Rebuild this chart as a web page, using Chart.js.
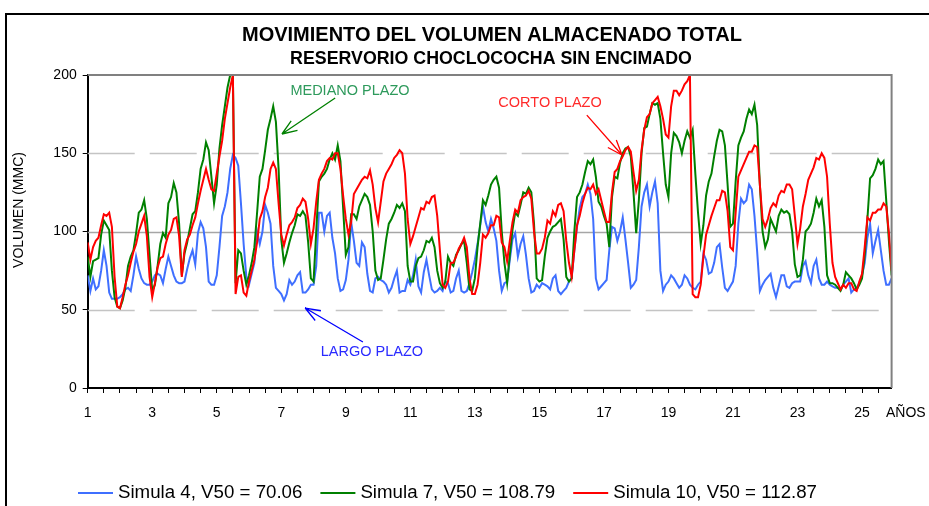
<!DOCTYPE html>
<html>
<head>
<meta charset="utf-8">
<script src="https://cdn.jsdelivr.net/npm/chart.js@4.4.1/dist/chart.umd.min.js"></script>
<style>
  html, body { margin: 0; padding: 0; background: #fff; }
  canvas { display: block; }
</style>
</head>
<body>
<canvas id="c" width="929" height="506"></canvas>
<script>
// ---------- DATA ----------
const chartTitle = 'MOVIMIENTO DEL VOLUMEN ALMACENADO TOTAL';
const chartSubtitle = 'RESERVORIO CHOCLOCOCHA SIN ENCIMADO';
const yAxisTitle = 'VOLUMEN (MMC)';
const xAxisTitle = 'AÑOS';
const seriesLabels = ['Simula 4, V50 = 70.06', 'Simula 7, V50 = 108.79', 'Simula 10, V50 = 112.87'];
const yearTicks = [1, 3, 5, 7, 9, 11, 13, 15, 17, 19, 21, 23, 25];
const yTicks = [0, 50, 100, 150, 200];
const monthsPerYear = 12;
const firstYear = 1;

// Simula 4 (largo plazo) - monthly
const simula4 = [
  72,62,70,63,65,75,88,78,61,57,
  57,57,58,60,63,64,62,72,84,76,
  70,67,66,66,68,72,73,72,67,76,
  84,78,72,68,67,67,68,76,83,88,
  79,99,106,102,90,68,66,66,72,90,
  110,116,125,140,149,147,142,118,92,71,
  66,73,80,100,92,100,117,112,105,78,
  64,62,60,56,60,69,66,68,72,74,
  61,61,63,66,66,78,112,112,100,110,
  112,96,86,70,62,63,69,82,106,94,
  80,78,93,90,73,62,61,70,71,69,
  68,66,61,64,70,75,61,62,62,69,
  66,72,82,65,61,74,82,72,63,61,
  62,64,62,68,67,61,62,70,75,62,
  61,62,67,74,82,92,104,116,106,100,
  108,102,94,75,62,67,68,82,95,99,
  84,92,97,85,70,61,62,66,64,67,
  66,65,63,70,72,62,60,62,64,68,
  70,88,103,115,122,124,130,124,108,70,
  63,65,67,69,88,103,102,94,100,109,
  95,80,64,66,69,90,116,125,130,116,
  125,132,118,75,62,66,68,72,70,67,
  64,66,72,70,66,64,63,66,68,86,
  82,73,74,80,90,92,77,64,62,65,
  68,78,105,121,118,120,130,127,110,87,
  62,66,69,71,73,64,58,65,72,72,
  65,64,67,68,68,68,78,81,72,67,
  78,82,70,66,66,68,66,65,64,64,
  63,66,68,70,61,63,64,67,72,80,
  96,105,86,94,101,88,75,66,66,70
];

// Simula 7 (mediano plazo) - monthly
const simula7 = [
  84,71,81,82,83,98,107,104,101,75,
  58,52,51,56,64,78,84,88,99,112,
  114,120,108,85,62,66,78,92,99,96,
  118,122,131,125,105,72,86,93,102,111,
  113,125,140,146,157,152,135,118,130,153,
  168,180,192,200,200,67,88,86,75,66,
  72,80,90,112,135,140,152,165,172,180,
  170,140,95,80,86,93,99,104,111,110,
  113,110,93,70,68,100,132,135,137,140,
  146,150,146,155,145,115,85,90,111,111,
  108,116,120,124,122,117,100,75,69,70,
  82,95,105,108,112,117,115,118,113,78,
  68,68,78,83,84,88,94,93,96,90,
  75,67,64,68,84,80,78,85,88,92,
  94,80,63,62,70,90,105,120,117,123,
  130,133,135,128,100,80,67,85,101,112,
  110,117,125,124,128,125,105,70,68,69,
  84,96,100,103,104,106,108,95,71,68,
  70,100,122,125,130,138,145,143,146,135,
  119,116,110,105,90,122,135,134,144,150,
  153,154,148,125,99,120,150,166,167,175,
  182,181,182,172,150,130,122,150,163,161,
  157,150,158,164,160,165,137,112,92,104,
  123,132,137,148,158,165,164,155,130,103,
  105,132,155,160,164,172,178,175,181,168,
  130,100,90,95,108,104,100,110,114,112,
  113,111,100,79,71,72,82,100,102,105,
  112,121,116,120,103,72,67,67,66,64,
  62,66,74,72,70,67,63,66,70,85,
  108,134,136,140,146,143,145,120,94,72
];

// Simula 10 (corto plazo) - monthly
const simula10 = [
  93,82,90,94,96,104,111,110,112,103,
  71,52,51,58,66,72,80,87,92,100,
  105,110,97,71,58,67,77,83,84,92,
  98,101,108,109,97,71,88,95,98,104,
  109,118,126,133,140,133,127,126,137,148,
  158,172,182,192,200,60,71,72,61,59,
  68,75,82,93,108,113,122,128,140,144,
  140,118,98,91,98,104,106,109,115,117,
  121,119,108,92,102,119,133,137,140,145,
  147,146,150,150,140,123,108,98,106,124,
  127,130,133,135,134,139,130,115,106,119,
  132,137,140,143,147,149,152,150,137,108,
  92,97,103,109,115,114,119,118,122,123,
  110,88,66,64,68,80,80,84,89,92,
  96,90,70,60,60,66,80,98,96,99,
  104,104,110,109,93,90,81,94,106,114,
  112,120,122,123,126,121,100,86,86,89,
  96,107,105,113,110,117,118,113,94,80,
  71,88,104,110,118,124,128,127,130,124,
  127,120,113,106,106,125,138,140,145,148,
  152,154,151,138,126,133,152,165,173,175,
  182,184,186,180,172,162,160,180,190,190,
  187,190,194,196,200,60,58,58,66,84,
  98,104,110,115,120,120,126,125,113,90,
  88,112,135,139,143,147,151,151,155,154,
  130,108,103,108,115,118,116,123,126,125,
  130,130,127,110,92,102,116,124,133,137,
  141,147,146,150,147,135,105,80,71,67,
  63,66,64,67,67,63,62,68,73,90,
  109,107,112,112,114,114,118,116,99,75
];

// time axis (years), one entry per month
const years = simula4.map((_, i) => firstYear + i / monthsPerYear);

// annotations (text in data coordinates: year, volume)
const notes = [
  { text: 'MEDIANO PLAZO', color: '#2E9A5C', arrow: '#008000', at: [9.13, 189.5], from: [8.67, 185.3], to: [7.02, 162.3] },
  { text: 'CORTO PLAZO',   color: '#FF2A2A', arrow: '#FF0000', at: [15.33, 182],  from: [16.47, 174.4], to: [17.56, 148.9] },
  { text: 'LARGO PLAZO',   color: '#2A2AFF', arrow: '#0000FF', at: [9.81, 23],    from: [9.53, 29.4],  to: [7.74, 51.1] }
];

const FONT = "'Liberation Sans', Arial, sans-serif";
const colors = ['#3F6FFF', '#008000', '#FF0000'];

function xy(vals) { return vals.map((v, i) => ({ x: years[i], y: v })); }

const deco = {
  id: 'deco',
  beforeDraw(chart) {
    const ctx = chart.ctx;
    ctx.save();
    ctx.fillStyle = '#fff';
    ctx.fillRect(0, 0, chart.width, chart.height);
    ctx.strokeStyle = '#000';
    ctx.lineWidth = 2;
    ctx.beginPath();
    ctx.moveTo(6, chart.height + 2);
    ctx.lineTo(6, 14);
    ctx.lineTo(chart.width + 2, 14);
    ctx.stroke();
    ctx.restore();
  },
  beforeDatasetsDraw(chart) {
    const { ctx, chartArea: a, scales: { y } } = chart;
    ctx.save();
    [50, 100, 150].forEach(v => {
      const py = Math.round(y.getPixelForValue(v)) + 0.5;
      ctx.beginPath();
      if (v === 100) { ctx.setLineDash([]); ctx.strokeStyle = '#A6A6A6'; }
      else { ctx.setLineDash([47, 15]); ctx.strokeStyle = '#C4C4C4'; }
      ctx.lineWidth = 1.3;
      ctx.moveTo(a.left, py);
      ctx.lineTo(a.right, py);
      ctx.stroke();
    });
    ctx.restore();
  },
  afterDraw(chart) {
    const { ctx, chartArea: a, scales: { x, y } } = chart;
    ctx.save();
    // plot frame top/right
    ctx.strokeStyle = '#808080';
    ctx.lineWidth = 2;
    ctx.beginPath();
    ctx.moveTo(a.left, a.top);
    ctx.lineTo(a.right, a.top);
    ctx.lineTo(a.right, a.bottom);
    ctx.stroke();

    // titles
    ctx.fillStyle = '#000';
    ctx.textAlign = 'center';
    ctx.textBaseline = 'middle';
    ctx.font = 'bold 20px ' + FONT;
    ctx.fillText(chartTitle, 492, 35);
    ctx.font = 'bold 17.8px ' + FONT;
    ctx.fillText(chartSubtitle, 491, 59);

    // y-axis title
    ctx.save();
    ctx.translate(19, 210);
    ctx.rotate(-Math.PI / 2);
    ctx.font = '14px ' + FONT;
    ctx.fillText(yAxisTitle, 0, 0);
    ctx.restore();

    // x-axis unit
    ctx.textAlign = 'left';
    ctx.font = '14px ' + FONT;
    ctx.fillText(xAxisTitle, 886, 413);

    // annotations
    notes.forEach(n => {
      ctx.font = '14.5px ' + FONT;
      ctx.fillStyle = n.color;
      ctx.textAlign = 'center';
      ctx.fillText(n.text, x.getPixelForValue(n.at[0]), y.getPixelForValue(n.at[1]));
      const x1 = x.getPixelForValue(n.from[0]), y1 = y.getPixelForValue(n.from[1]);
      const x2 = x.getPixelForValue(n.to[0]), y2 = y.getPixelForValue(n.to[1]);
      ctx.strokeStyle = n.arrow;
      ctx.lineWidth = 1.3;
      ctx.beginPath();
      ctx.moveTo(x1, y1); ctx.lineTo(x2, y2);
      const ang = Math.atan2(y1 - y2, x1 - x2);
      const L = 16, h = 0.36;
      ctx.moveTo(x2, y2); ctx.lineTo(x2 + L * Math.cos(ang + h), y2 + L * Math.sin(ang + h));
      ctx.moveTo(x2, y2); ctx.lineTo(x2 + L * Math.cos(ang - h), y2 + L * Math.sin(ang - h));
      ctx.stroke();
    });

    // legend
    let lx = 78;
    const ly = 493;
    ctx.font = '18.7px ' + FONT;
    ctx.textAlign = 'left';
    chart.data.datasets.forEach(ds => {
      ctx.strokeStyle = ds.borderColor;
      ctx.lineWidth = 2;
      ctx.beginPath();
      ctx.moveTo(lx, ly); ctx.lineTo(lx + 35, ly);
      ctx.stroke();
      ctx.fillStyle = '#000';
      ctx.fillText(ds.label, lx + 40, ly);
      lx += 40 + ctx.measureText(ds.label).width + 18;
    });
    ctx.restore();
  }
};

new Chart(document.getElementById('c'), {
  type: 'line',
  data: {
    datasets: [
      { label: seriesLabels[0], data: xy(simula4), borderColor: colors[0], backgroundColor: colors[0], order: 3 },
      { label: seriesLabels[1], data: xy(simula7), borderColor: colors[1], backgroundColor: colors[1], order: 2 },
      { label: seriesLabels[2], data: xy(simula10), borderColor: colors[2], backgroundColor: colors[2], order: 1 }
    ]
  },
  options: {
    responsive: false,
    animation: false,
    devicePixelRatio: 1,
    elements: { point: { radius: 0 }, line: { borderWidth: 2, tension: 0 } },
    layout: { padding: { top: 75, right: 37.4, bottom: 88, left: 0 } },
    plugins: { legend: { display: false }, tooltip: { enabled: false }, title: { display: false } },
    scales: {
      x: {
        type: 'linear',
        min: firstYear,
        max: firstYear + (simula4.length - 1) / monthsPerYear,
        ticks: {
          stepSize: 0.5, autoSkip: false, maxRotation: 0, minRotation: 0, includeBounds: false,
          padding: 12, color: '#000', font: { family: FONT, size: 14, weight: 'normal' },
          callback: v => yearTicks.some(t => Math.abs(t - v) < 1e-6) ? String(Math.round(v)) : ''
        },
        grid: { drawOnChartArea: false, drawTicks: true, tickLength: 5, tickColor: '#000', tickWidth: 1 },
        border: { color: '#000', width: 2 },
        afterFit: s => { s.height = 30; }
      },
      y: {
        min: yTicks[0], max: yTicks[yTicks.length - 1],
        afterBuildTicks: s => { s.ticks = yTicks.map(v => ({ value: v })); },
        ticks: { padding: 6, color: '#000', font: { family: FONT, size: 14, weight: 'normal' } },
        grid: { drawOnChartArea: false, drawTicks: true, tickLength: 5, tickColor: '#000' },
        border: { color: '#000', width: 2 },
        afterFit: s => { s.width = 87.7; }
      }
    }
  },
  plugins: [deco]
});
</script>
</body>
</html>
